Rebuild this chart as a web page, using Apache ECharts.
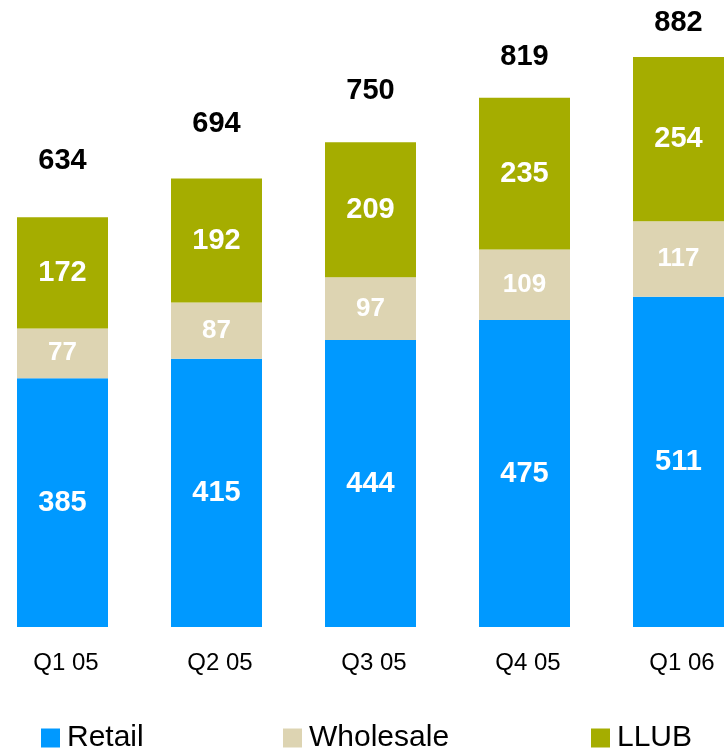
<!DOCTYPE html>
<html>
<head>
<meta charset="utf-8">
<script src="https://cdn.jsdelivr.net/npm/echarts@6/dist/echarts.min.js"></script>
<style>
  html, body { margin: 0; padding: 0; background: #fff; }
  #chart { width: 725px; height: 750px; }
</style>
</head>
<body>
<div id="chart"></div>
<script>
const quarters = ['Q1 05', 'Q2 05', 'Q3 05', 'Q4 05', 'Q1 06'];
const retail = [385, 415, 444, 475, 511];
const wholesale = [77, 87, 97, 109, 117];
const llub = [172, 192, 209, 235, 254];
const totals = [634, 694, 750, 819, 882];
const seriesNames = ['Retail', 'Wholesale', 'LLUB'];

// how far each total floats above its bar (the labels sit on a slanted line)
const totalLift = [42, 40, 37, 26, 20];
// legend entries are spread out individually along the bottom
const legendLeft = [41, 283, 591];

const chart = echarts.init(document.getElementById('chart'));
const font = '"Liberation Sans", Arial, sans-serif';

const inner = (size) => ({
  show: true,
  position: 'inside',
  color: '#fff',
  fontWeight: 'bold',
  fontSize: size,
  fontFamily: font
});

chart.setOption({
  animation: false,
  grid: { left: -14.5, right: -30.5, top: 57, bottom: 123, outerBoundsMode: 'none' },
  legend: seriesNames.map((name, i) => ({
    left: legendLeft[i],
    top: 723,
    padding: 0,
    icon: 'rect',
    itemWidth: 19,
    itemHeight: 19,
    textStyle: { fontSize: 30, color: '#000', fontFamily: font, padding: [0, 0, 0, 2] },
    data: [name]
  })),
  xAxis: {
    type: 'category',
    data: quarters,
    axisLine: { show: false },
    axisTick: { show: false },
    axisLabel: { margin: 24, fontSize: 24, color: '#000', fontFamily: font, padding: [0, 0, 0, 7] }
  },
  yAxis: { type: 'value', min: 0, max: 882, show: false, splitLine: { show: false } },
  series: [
    {
      name: 'Retail', type: 'bar', stack: 'a', barWidth: 91,
      itemStyle: { color: '#0099FF' },
      label: inner(29),
      data: retail
    },
    {
      name: 'Wholesale', type: 'bar', stack: 'a', barWidth: 91,
      itemStyle: { color: '#DDD4B2' },
      label: inner(26),
      data: wholesale
    },
    {
      name: 'LLUB', type: 'bar', stack: 'a', barWidth: 91,
      itemStyle: { color: '#A5AD00' },
      label: inner(29),
      data: llub
    },
    {
      name: 'Total', type: 'bar', stack: 'a', barWidth: 91,
      itemStyle: { color: 'transparent' },
      data: totals.map((t, i) => ({
        value: 0,
        label: {
          show: true, position: 'top', distance: totalLift[i],
          formatter: String(t),
          color: '#000', fontWeight: 'bold', fontSize: 29, fontFamily: font
        }
      }))
    }
  ]
});
</script>
</body>
</html>
